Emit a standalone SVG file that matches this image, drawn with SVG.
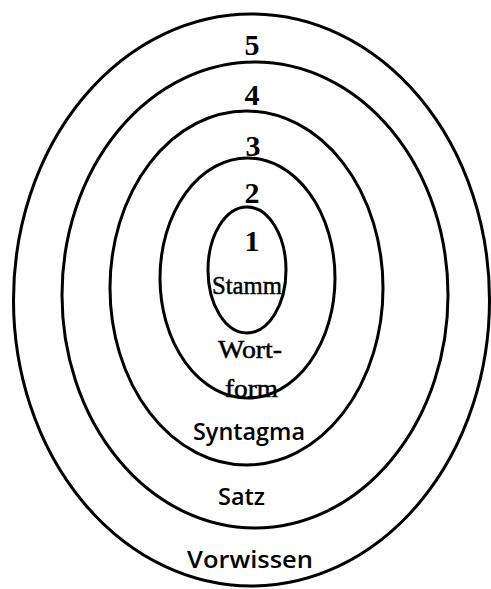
<svg xmlns="http://www.w3.org/2000/svg" width="491" height="589" viewBox="0 0 491 589">
  <style>
    .ring { fill: none; stroke: #000; stroke-width: 3; }
    .num { font-family: "Liberation Serif", "Times New Roman", serif; font-weight: bold; font-size: 30px; fill: #000; text-anchor: middle; }
    .serif { font-family: "Liberation Serif", "Times New Roman", serif; font-size: 26px; fill: #000; stroke: #000; stroke-width: 0.5; text-anchor: middle; }
    .sans { font-family: "Open Sans", "Liberation Sans", sans-serif; font-weight: 600; font-size: 24px; fill: #000; text-anchor: middle; }
  </style>
  <rect width="491" height="589" fill="#fff"/>
  <g id="ring5">
    <ellipse class="ring" cx="251.5" cy="300" rx="238" ry="286"/>
    <text class="num" x="252" y="55">5</text>
    <text class="sans" x="250" y="568" textLength="126" lengthAdjust="spacingAndGlyphs">Vorwissen</text>
  </g>
  <g id="ring4">
    <ellipse class="ring" cx="255" cy="295" rx="193" ry="233"/>
    <text class="num" x="252" y="105">4</text>
    <text class="sans" x="241.5" y="505" textLength="47" lengthAdjust="spacingAndGlyphs">Satz</text>
  </g>
  <g id="ring3">
    <ellipse class="ring" cx="246.5" cy="288" rx="136.5" ry="177"/>
    <text class="num" x="253" y="156">3</text>
    <text class="sans" x="249" y="440" textLength="112" lengthAdjust="spacingAndGlyphs">Syntagma</text>
  </g>
  <g id="ring2">
    <ellipse class="ring" cx="247.5" cy="278" rx="87.5" ry="120"/>
    <text class="num" x="252" y="203">2</text>
    <text class="serif" x="250" y="358" textLength="64" lengthAdjust="spacingAndGlyphs">Wort-</text>
    <text class="serif" x="251.5" y="397" textLength="53" lengthAdjust="spacingAndGlyphs">form</text>
  </g>
  <g id="ring1">
    <ellipse class="ring" cx="247" cy="270" rx="39" ry="63"/>
    <text class="num" x="252" y="251">1</text>
    <text class="serif" x="247" y="294" textLength="70" lengthAdjust="spacingAndGlyphs">Stamm</text>
  </g>
</svg>
